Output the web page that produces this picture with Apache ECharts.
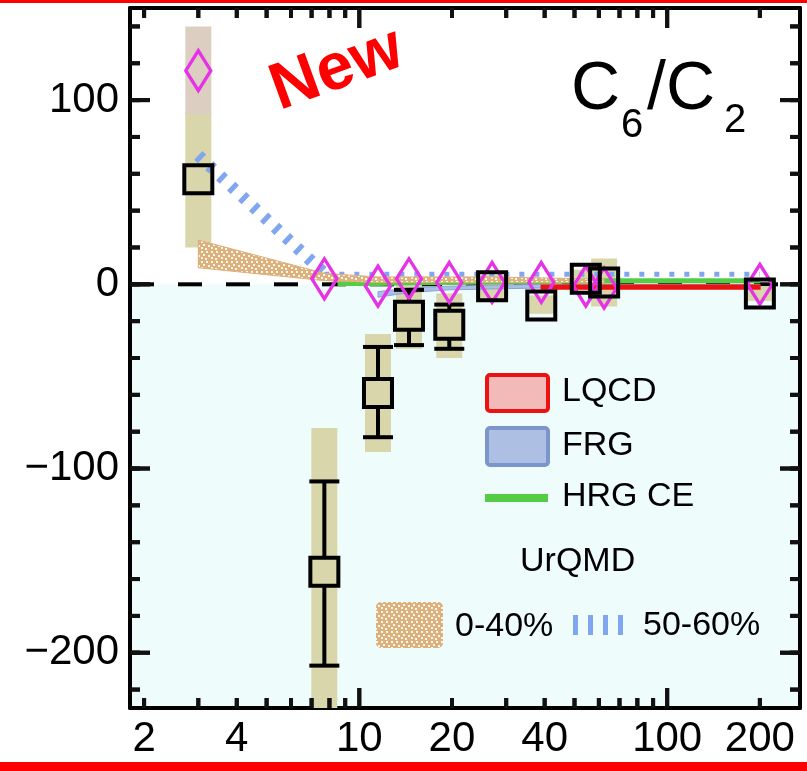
<!DOCTYPE html>
<html><head><meta charset="utf-8">
<script src="https://cdn.jsdelivr.net/npm/echarts@6/dist/echarts.min.js"></script>
<style>
html,body{margin:0;padding:0;background:#fff}
#wrap{position:relative;width:807px;height:771px}
.layer{position:absolute;left:0;top:0;width:807px;height:771px}
#b,#c{pointer-events:none}
</style>
</head><body><div id="wrap"><div id="a" class="layer"></div><div id="b" class="layer"></div><div id="c" class="layer"></div></div>
<script>
// ---------- data ----------
const energy     = [3, 7.7, 11.5, 14.5, 19.6, 27, 39, 54.4, 62.4, 200];
const squareVal  = [57, -156, -59, -17, -22, -1, -11.5, 3, 1, -5];
const statLo     = [null, -207, -83, -33, -35, null, null, null, null, null];
const statHi     = [null, -107, -34, -3, -11, null, null, null, null, null];
const sysLo      = [20, -234, -91, -35, -40, -8, -16, -3, -12, -9];
const sysHi      = [94, -78, -27, 0, -5, 5, -6, 8, 14, -1];
const diamondVal = [116, 3, -1, 3, 1, 1, 1, -1, -2, 0];
const diamondSysE  = [3];
const diamondSysLo = [92];
const diamondSysHi = [140];

const urqmd040E  = [3, 7.7, 11.5, 14.5, 19.6, 27, 39, 54.4, 62.4];
const urqmd040Lo = [9, 2, 1, 1, 1, 1, 1, 1, 1];
const urqmd040Hi = [24, 6, 4, 4, 4, 4, 3.5, 3, 3];

const urqmd5060E1 = [3, 7.7];
const urqmd5060V1 = [70, 6];
const urqmd5060E2 = [7.7, 11.5, 14.5, 19.6, 27, 39, 54.4, 62.4, 200];
const urqmd5060V2 = [5.5, 5.5, 5.5, 5.5, 5.5, 5.5, 5.5, 5.5, 5.5];

const frgE  = [11.5, 14.5, 19.6, 27, 39, 54.4, 62.4, 200];
const frgLo = [-7, -4.5, -3, -2.5, -2, -1.5, -1.5, -1];
const frgHi = [-4, -2, -1, -0.5, 0, 0, 0, 0];

const lqcdE  = [39, 54.4, 62.4, 200];
const lqcdLo = [-2.5, -2.5, -2.5, -2.5];
const lqcdHi = [-0.5, -0.5, -0.5, -0.5];

const hrgE = [8.5, 11.5, 14.5, 19.6, 27, 39, 54.4, 62.4, 200];
const hrgV = [0.5, 0.5, 0.8, 1, 1.2, 1.5, 1.8, 2, 2];

const xLabelTicks = [2, 4, 10, 20, 40, 100, 200];
const xMajorTicks = [10, 100];
const xMinorTicks = [2, 3, 4, 5, 6, 7, 8, 9, 20, 30, 40, 50, 60, 70, 80, 90, 200];
const yLabelTicks = [-200, -100, 0, 100];
const yMinorTicks = [-220, -200, -180, -160, -140, -120, -100, -80, -60, -40, -20, 0, 20, 40, 60, 80, 100, 120, 140];
const X_MIN = 1.8, X_MAX = 270, Y_MIN = -230, Y_MAX = 150;

// ---------- helpers ----------
const L = Math.log10;
const FONT = "'Liberation Sans', Helvetica, Arial, sans-serif";
const OLIVE = '#d9d6ab';
const PINKISH = '#dccfc1';
const TAN = '#ddb07c';
const BLUE = '#7fa6ee';
const GRID = { left: 130, right: 7, top: 8, bottom: 63 };

function makeTanPattern() {
  const c = document.createElement('canvas');
  c.width = 10; c.height = 10;
  const g = c.getContext('2d');
  g.fillStyle = TAN; g.fillRect(0, 0, 10, 10);
  g.fillStyle = '#fdf8f0';
  [[1,1],[6,1],[3,4],[8,5],[1,7],[5,8]].forEach(p => g.fillRect(p[0], p[1], 2, 2));
  return c;
}
const tanCanvas = makeTanPattern();

function axes(visible) {
  const line = { show: visible, onZero: false, lineStyle: { color: '#000', width: 4 } };
  return {
    xAxis: [
      { type: 'value', min: L(X_MIN), max: L(X_MAX), position: 'bottom', splitLine: { show: false },
        axisLine: line, axisTick: { show: false },
        axisLabel: visible ? { show: true, customValues: xLabelTicks.map(L), margin: 10,
          formatter: v => String(Math.round(Math.pow(10, v))),
          color: '#000', fontSize: 42, fontFamily: FONT } : { show: false } },
      { type: 'value', min: L(X_MIN), max: L(X_MAX), position: 'top', splitLine: { show: false },
        axisLine: line, axisTick: { show: false }, axisLabel: { show: false } }
    ],
    yAxis: [
      { type: 'value', min: Y_MIN, max: Y_MAX, position: 'left', splitLine: { show: false },
        axisLine: line, axisTick: { show: false },
        axisLabel: visible ? { show: true, customValues: yLabelTicks, margin: 11,
          formatter: v => (v < 0 ? '\u2212' + (-v) : String(v)),
          color: '#000', fontSize: 42, fontFamily: FONT } : { show: false } },
      { type: 'value', min: Y_MIN, max: Y_MAX, position: 'right', splitLine: { show: false },
        axisLine: line, axisTick: { show: false }, axisLabel: { show: false } }
    ]
  };
}

function bandSeries(xs, lo, hi, fill, stroke, lw, z) {
  return {
    type: 'custom', z: z, silent: true,
    data: [[L(xs[0]), lo[0]]],
    renderItem: function (params, api) {
      const pts = [];
      for (let i = 0; i < xs.length; i++) pts.push(api.coord([L(xs[i]), hi[i]]));
      for (let i = xs.length - 1; i >= 0; i--) pts.push(api.coord([L(xs[i]), lo[i]]));
      return { type: 'polygon', shape: { points: pts }, style: { fill: fill, stroke: stroke, lineWidth: lw } };
    }
  };
}

function boxSeries(xs, lo, hi, fill, z) {
  return {
    type: 'custom', z: z, silent: true,
    data: xs.map((e, i) => [L(e), lo[i], hi[i]]),
    encode: { x: 0, y: [1, 2] },
    renderItem: function (params, api) {
      const x = api.value(0);
      const pT = api.coord([x, api.value(2)]);
      const pB = api.coord([x, api.value(1)]);
      const cs = params.coordSys;
      const top = Math.max(pT[1], cs.y), bot = Math.min(pB[1], cs.y + cs.height);
      return { type: 'rect', shape: { x: pT[0] - 13, y: top, width: 26, height: bot - top }, style: { fill: fill } };
    }
  };
}

function tickSeries(vals, side, len) {
  const isX = side === 'bottom' || side === 'top';
  const data = vals.map(v => isX ? [L(v), side === 'bottom' ? Y_MIN : Y_MAX]
                                 : [side === 'left' ? L(X_MIN) : L(X_MAX), v]);
  return {
    type: 'custom', z: 9, data: data, encode: { x: 0, y: 1 },
    renderItem: function (params, api) {
      const p = api.coord([api.value(0), api.value(1)]);
      let q;
      if (side === 'bottom') q = [p[0], p[1] - len];
      else if (side === 'top') q = [p[0], p[1] + len];
      else if (side === 'left') q = [p[0] + len, p[1]];
      else q = [p[0] - len, p[1]];
      return { type: 'line', shape: { x1: p[0], y1: p[1], x2: q[0], y2: q[1] }, style: { stroke: '#111', lineWidth: 4 } };
    }
  };
}

const statData = [];
energy.forEach((e, i) => { if (statLo[i] !== null) statData.push([L(e), statLo[i], statHi[i], squareVal[i]]); });

// ---------- layer A: axes, labels and data marks ----------
const axA = axes(true);
const optionA = {
  animation: false,
  backgroundColor: '#ffffff',
  grid: GRID,
  xAxis: axA.xAxis, yAxis: axA.yAxis,
  series: [
    { type: 'custom', z: 0, silent: true, data: [[L(X_MIN), Y_MIN]],
      renderItem: function (params, api) {
        const a = api.coord([L(X_MIN), 0]), b = api.coord([L(X_MAX), Y_MIN]);
        return { type: 'rect', shape: { x: a[0], y: a[1], width: b[0] - a[0], height: b[1] - a[1] }, style: { fill: '#effcfc' } };
      } },
    { type: 'line', z: 1, silent: true, symbol: 'none',
      data: [[L(X_MIN), 0], [L(X_MAX), 0]],
      lineStyle: { color: '#000', width: 4, type: [24, 24] } },
    boxSeries(energy, sysLo, sysHi, OLIVE, 2),
    boxSeries(diamondSysE, diamondSysLo, diamondSysHi, PINKISH, 2),
    bandSeries(frgE, frgLo, frgHi, '#a9bde6', '#8aa2d6', 1, 3),
    bandSeries(lqcdE, lqcdLo, lqcdHi, '#ee1111', '#ee1111', 1.5, 3),
    { type: 'line', z: 4, silent: true, symbol: 'none',
      data: hrgE.map((e, i) => [L(e), hrgV[i]]),
      lineStyle: { color: '#55cc44', width: 5 } },
    { type: 'line', z: 4, silent: true, symbol: 'none',
      data: urqmd5060E1.map((e, i) => [L(e), urqmd5060V1[i]]),
      lineStyle: { color: BLUE, width: 12, type: [5, 10], cap: 'butt' } },
    { type: 'line', z: 4, silent: true, symbol: 'none',
      data: urqmd5060E2.map((e, i) => [L(e), urqmd5060V2[i]]),
      lineStyle: { color: BLUE, width: 5, type: [5, 10], cap: 'butt' } },
    { type: 'custom', z: 6, silent: true,
      data: statData, encode: { x: 0, y: [1, 2] },
      renderItem: function (params, api) {
        const x = api.value(0);
        const pLo = api.coord([x, api.value(1)]);
        const pHi = api.coord([x, api.value(2)]);
        const pC = api.coord([x, api.value(3)]);
        const st = { stroke: '#000', lineWidth: 4 };
        return { type: 'group', children: [
          { type: 'line', shape: { x1: pHi[0], y1: pHi[1], x2: pC[0], y2: pC[1] - 15 }, style: st },
          { type: 'line', shape: { x1: pC[0], y1: pC[1] + 15, x2: pLo[0], y2: pLo[1] }, style: st },
          { type: 'line', shape: { x1: pHi[0] - 15, y1: pHi[1], x2: pHi[0] + 15, y2: pHi[1] }, style: st },
          { type: 'line', shape: { x1: pLo[0] - 15, y1: pLo[1], x2: pLo[0] + 15, y2: pLo[1] }, style: st }
        ] };
      } },
    tickSeries(xMajorTicks, 'bottom', 20),
    tickSeries(xMinorTicks, 'bottom', 10),
    tickSeries(xMajorTicks, 'top', 20),
    tickSeries(xMinorTicks, 'top', 10),
    tickSeries(yLabelTicks, 'left', 20),
    tickSeries(yMinorTicks, 'left', 10),
    tickSeries(yLabelTicks, 'right', 20),
    tickSeries(yMinorTicks, 'right', 10)
  ]
};

// ---------- layer B: UrQMD 0-40% band, markers, legend and texts ----------
const axB = axes(false);
const optionB = {
  animation: false,
  grid: GRID,
  xAxis: axB.xAxis, yAxis: axB.yAxis,
  series: [
    bandSeries(urqmd040E, urqmd040Lo, urqmd040Hi, { image: tanCanvas, repeat: 'repeat' }, TAN, 1, 3),
    { type: 'scatter', z: 5, silent: true,
      symbol: 'path://M0,-10L6,0L0,10L-6,0Z', symbolSize: [25, 40], symbolKeepAspect: false,
      data: energy.map((e, i) => [L(e), diamondVal[i]]),
      itemStyle: { color: 'rgba(0,0,0,0)', borderColor: '#e632e6', borderWidth: 3.5, opacity: 1 } },
    { type: 'scatter', z: 7, silent: true, symbol: 'rect', symbolSize: 28,
      data: energy.map((e, i) => [L(e), squareVal[i]]),
      itemStyle: { color: 'rgba(0,0,0,0)', borderColor: '#000', borderWidth: 4, opacity: 1 } }
  ],
  graphic: [
    { type: 'rect', z: 100, shape: { x: 0, y: 0, width: 807, height: 3 }, style: { fill: '#ff0000' } },
    { type: 'rect', z: 100, shape: { x: 0, y: 762, width: 807, height: 9 }, style: { fill: '#ff0000' } },
    { type: 'text', z: 100, x: 571, y: 90, style: { text: 'C', font: '68px ' + FONT, fill: '#000', align: 'left', verticalAlign: 'middle' } },
    { type: 'text', z: 100, x: 621, y: 126, style: { text: '6', font: '40px ' + FONT, fill: '#000', align: 'left', verticalAlign: 'middle' } },
    { type: 'text', z: 100, x: 647, y: 90, style: { text: '/C', font: '68px ' + FONT, fill: '#000', align: 'left', verticalAlign: 'middle' } },
    { type: 'text', z: 100, x: 724, y: 121, style: { text: '2', font: '40px ' + FONT, fill: '#000', align: 'left', verticalAlign: 'middle' } },
    { type: 'text', z: 100, x: 337, y: 70, rotation: 20 * Math.PI / 180,
      style: { text: 'New', font: 'bold 66px ' + FONT, fill: '#ff0000', align: 'center', verticalAlign: 'middle' } },
    { type: 'rect', z: 100, shape: { x: 487, y: 375, width: 61, height: 36, r: 3 }, style: { fill: '#f3baba', stroke: '#ee1111', lineWidth: 4 } },
    { type: 'text', z: 100, x: 562, y: 392, style: { text: 'LQCD', font: '34px ' + FONT, fill: '#000', verticalAlign: 'middle' } },
    { type: 'rect', z: 100, shape: { x: 487, y: 428, width: 61, height: 37, r: 3 }, style: { fill: '#adbfe3', stroke: '#7d95cd', lineWidth: 4 } },
    { type: 'text', z: 100, x: 562, y: 446, style: { text: 'FRG', font: '34px ' + FONT, fill: '#000', verticalAlign: 'middle' } },
    { type: 'line', z: 100, shape: { x1: 485, y1: 498, x2: 548, y2: 498 }, style: { stroke: '#55cc44', lineWidth: 8 } },
    { type: 'text', z: 100, x: 562, y: 497, style: { text: 'HRG CE', font: '34px ' + FONT, fill: '#000', verticalAlign: 'middle' } },
    { type: 'text', z: 100, x: 520, y: 562, style: { text: 'UrQMD', font: '34px ' + FONT, fill: '#000', verticalAlign: 'middle' } },
    { type: 'rect', z: 100, shape: { x: 376, y: 602, width: 67, height: 46, r: 5 }, style: { fill: { image: tanCanvas, repeat: 'repeat' } } },
    { type: 'text', z: 100, x: 455, y: 627, style: { text: '0-40%', font: '34px ' + FONT, fill: '#000', verticalAlign: 'middle' } },
    { type: 'line', z: 100, shape: { x1: 573, y1: 625, x2: 623, y2: 625 }, style: { stroke: BLUE, lineWidth: 20, lineDash: [5, 10] } },
    { type: 'text', z: 100, x: 643, y: 626, style: { text: '50-60%', font: '34px ' + FONT, fill: '#000', verticalAlign: 'middle' } }
  ]
};

// ---------- layer C: axis ticks on all four sides ----------
const axC = axes(false);
const optionC = {
  animation: false,
  grid: GRID,
  xAxis: axC.xAxis, yAxis: axC.yAxis,
  series: [
    tickSeries(xMajorTicks, 'bottom', 20),
    tickSeries(xMinorTicks, 'bottom', 10),
    tickSeries(xMajorTicks, 'top', 20),
    tickSeries(xMinorTicks, 'top', 10),
    tickSeries(yLabelTicks, 'left', 20),
    tickSeries(yMinorTicks, 'left', 10),
    tickSeries(yLabelTicks, 'right', 20),
    tickSeries(yMinorTicks, 'right', 10)
  ]
};

echarts.init(document.getElementById('a')).setOption(optionA);
echarts.init(document.getElementById('b')).setOption(optionB);
echarts.init(document.getElementById('c')).setOption(optionC);
</script>
</body></html>
